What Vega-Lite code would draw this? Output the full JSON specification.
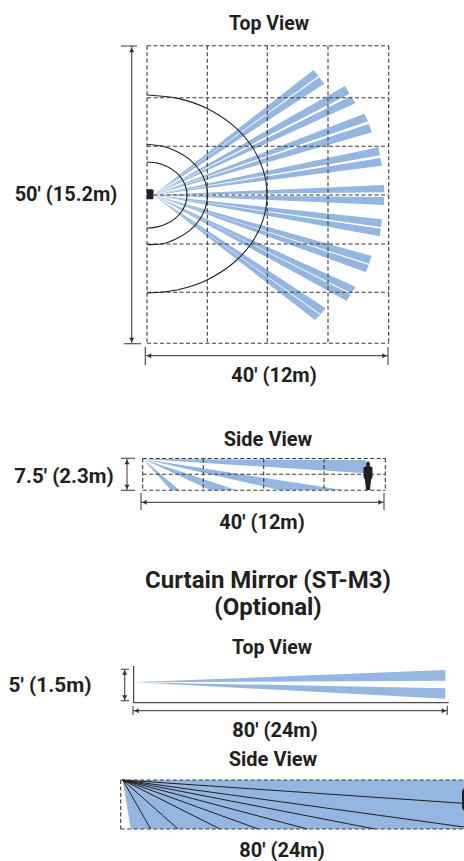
{
"$schema":"https://vega.github.io/schema/vega-lite/v6.json",
"width":464,"height":861,"padding":0,
"autosize":{"type":"none"},
"background":"white",
"view":{"stroke":null},
"datasets":{
"shapes":[
{"id":"b1a","kind":"beam","o":1,"x":153.5,"y":195},{"id":"b1a","kind":"beam","o":2,"x":313.3,"y":70},{"id":"b1a","kind":"beam","o":3,"x":318.7,"y":75.7},
{"id":"b1b","kind":"beam","o":1,"x":153.5,"y":195},{"id":"b1b","kind":"beam","o":2,"x":319,"y":77.3},{"id":"b1b","kind":"beam","o":3,"x":324.3,"y":83.7},
{"id":"b2a","kind":"beam","o":1,"x":153.5,"y":195},{"id":"b2a","kind":"beam","o":2,"x":345,"y":86},{"id":"b2a","kind":"beam","o":3,"x":349.7,"y":93.7},
{"id":"b2b","kind":"beam","o":1,"x":153.5,"y":195},{"id":"b2b","kind":"beam","o":2,"x":350.7,"y":96.3},{"id":"b2b","kind":"beam","o":3,"x":355.7,"y":103},
{"id":"b3a","kind":"beam","o":1,"x":153.5,"y":195},{"id":"b3a","kind":"beam","o":2,"x":364.3,"y":113.7},{"id":"b3a","kind":"beam","o":3,"x":368,"y":121.3},
{"id":"b3b","kind":"beam","o":1,"x":153.5,"y":195},{"id":"b3b","kind":"beam","o":2,"x":368.7,"y":124},{"id":"b3b","kind":"beam","o":3,"x":372,"y":132.3},
{"id":"b4a","kind":"beam","o":1,"x":153.5,"y":195},{"id":"b4a","kind":"beam","o":2,"x":378.3,"y":147.3},{"id":"b4a","kind":"beam","o":3,"x":380,"y":155.3},
{"id":"b4b","kind":"beam","o":1,"x":153.5,"y":195},{"id":"b4b","kind":"beam","o":2,"x":380.3,"y":158},{"id":"b4b","kind":"beam","o":3,"x":382,"y":165.7},
{"id":"b5a","kind":"beam","o":1,"x":153.5,"y":195},{"id":"b5a","kind":"beam","o":2,"x":384,"y":185},{"id":"b5a","kind":"beam","o":3,"x":384.3,"y":192.3},
{"id":"b5b","kind":"beam","o":1,"x":153.5,"y":195},{"id":"b5b","kind":"beam","o":2,"x":384,"y":197},{"id":"b5b","kind":"beam","o":3,"x":384,"y":205},
{"id":"b6a","kind":"beam","o":1,"x":153.5,"y":195},{"id":"b6a","kind":"beam","o":2,"x":382,"y":219.3},{"id":"b6a","kind":"beam","o":3,"x":381,"y":227},
{"id":"b6b","kind":"beam","o":1,"x":153.5,"y":195},{"id":"b6b","kind":"beam","o":2,"x":380.7,"y":228.7},{"id":"b6b","kind":"beam","o":3,"x":380,"y":236.3},
{"id":"b7a","kind":"beam","o":1,"x":153.5,"y":195},{"id":"b7a","kind":"beam","o":2,"x":371.7,"y":256},{"id":"b7a","kind":"beam","o":3,"x":369,"y":263.7},
{"id":"b7b","kind":"beam","o":1,"x":153.5,"y":195},{"id":"b7b","kind":"beam","o":2,"x":368.7,"y":265},{"id":"b7b","kind":"beam","o":3,"x":366,"y":272.3},
{"id":"b8a","kind":"beam","o":1,"x":153.5,"y":195},{"id":"b8a","kind":"beam","o":2,"x":355.7,"y":287},{"id":"b8a","kind":"beam","o":3,"x":351.3,"y":293.3},
{"id":"b8b","kind":"beam","o":1,"x":153.5,"y":195},{"id":"b8b","kind":"beam","o":2,"x":350.7,"y":294.3},{"id":"b8b","kind":"beam","o":3,"x":346.7,"y":301},
{"id":"b9a","kind":"beam","o":1,"x":153.5,"y":195},{"id":"b9a","kind":"beam","o":2,"x":325.7,"y":308.3},{"id":"b9a","kind":"beam","o":3,"x":320.7,"y":314.3},
{"id":"b9b","kind":"beam","o":1,"x":153.5,"y":195},{"id":"b9b","kind":"beam","o":2,"x":320,"y":315},{"id":"b9b","kind":"beam","o":3,"x":315,"y":320},
{"id":"s1","kind":"beam","o":1,"x":143,"y":459},{"id":"s1","kind":"beam","o":2,"x":366,"y":460},{"id":"s1","kind":"beam","o":3,"x":366,"y":473.3},
{"id":"s2","kind":"beam","o":1,"x":143,"y":459},{"id":"s2","kind":"beam","o":2,"x":343,"y":490},{"id":"s2","kind":"beam","o":3,"x":279,"y":490},
{"id":"s3","kind":"beam","o":1,"x":143,"y":459},{"id":"s3","kind":"beam","o":2,"x":236,"y":490},{"id":"s3","kind":"beam","o":3,"x":210,"y":490},
{"id":"s4","kind":"beam","o":1,"x":143,"y":459},{"id":"s4","kind":"beam","o":2,"x":179.3,"y":490},{"id":"s4","kind":"beam","o":3,"x":170.7,"y":490},
{"id":"c1","kind":"beam","o":1,"x":134,"y":682.3},{"id":"c1","kind":"beam","o":2,"x":445.3,"y":670},{"id":"c1","kind":"beam","o":3,"x":445.3,"y":680.7},
{"id":"c2","kind":"beam","o":1,"x":134,"y":682.3},{"id":"c2","kind":"beam","o":2,"x":445.3,"y":688.3},{"id":"c2","kind":"beam","o":3,"x":445.3,"y":698.7},
{"id":"d1","kind":"beam","o":1,"x":122.7,"y":780},{"id":"d1","kind":"beam","o":2,"x":464,"y":780},{"id":"d1","kind":"beam","o":3,"x":464,"y":829},{"id":"d1","kind":"beam","o":4,"x":130.7,"y":829},
{"id":"sensor","kind":"dark","o":1,"x":146.7,"y":189.3},{"id":"sensor","kind":"dark","o":2,"x":152.5,"y":189.3},{"id":"sensor","kind":"dark","o":3,"x":153.5,"y":190.5},{"id":"sensor","kind":"dark","o":4,"x":153.5,"y":198},{"id":"sensor","kind":"dark","o":5,"x":152.5,"y":199.3},{"id":"sensor","kind":"dark","o":6,"x":146.7,"y":199.3},
{"id":"person","kind":"dark","o":1,"x":367,"y":461.5},{"id":"person","kind":"dark","o":2,"x":369,"y":461.5},{"id":"person","kind":"dark","o":3,"x":370,"y":464},{"id":"person","kind":"dark","o":4,"x":369.5,"y":466},{"id":"person","kind":"dark","o":5,"x":372.5,"y":467.5},{"id":"person","kind":"dark","o":6,"x":372.5,"y":477},{"id":"person","kind":"dark","o":7,"x":371,"y":480},{"id":"person","kind":"dark","o":8,"x":370,"y":490},{"id":"person","kind":"dark","o":9,"x":366,"y":490},{"id":"person","kind":"dark","o":10,"x":365,"y":480},{"id":"person","kind":"dark","o":11,"x":363.5,"y":477},{"id":"person","kind":"dark","o":12,"x":363.5,"y":467.5},{"id":"person","kind":"dark","o":13,"x":366.5,"y":466},{"id":"person","kind":"dark","o":14,"x":366,"y":464},
{"id":"person2","kind":"dark","o":1,"x":464,"y":788},{"id":"person2","kind":"dark","o":2,"x":462,"y":791},{"id":"person2","kind":"dark","o":3,"x":462,"y":808},{"id":"person2","kind":"dark","o":4,"x":464,"y":811}
],
"dashes":[
{"x":147,"y":45.7,"x2":389,"y2":45.7},{"x":147,"y":97.7,"x2":389,"y2":97.7},{"x":147,"y":146.3,"x2":389,"y2":146.3},{"x":147,"y":195,"x2":389,"y2":195},{"x":147,"y":244,"x2":389,"y2":244},{"x":147,"y":292.3,"x2":389,"y2":292.3},{"x":147,"y":343.3,"x2":389,"y2":343.3},
{"x":147,"y":45.7,"x2":147,"y2":343.3},{"x":207.3,"y":45.7,"x2":207.3,"y2":343.3},{"x":267.3,"y":45.7,"x2":267.3,"y2":343.3},{"x":328,"y":45.7,"x2":328,"y2":343.3},{"x":388.7,"y":45.7,"x2":388.7,"y2":343.3},
{"x":142.7,"y":458.5,"x2":385.3,"y2":458.5},{"x":142.7,"y":474.3,"x2":385.3,"y2":474.3},{"x":142.7,"y":490.3,"x2":385.3,"y2":490.3},
{"x":142.7,"y":458.5,"x2":142.7,"y2":490.3},{"x":203.3,"y":458.5,"x2":203.3,"y2":490.3},{"x":263.7,"y":458.5,"x2":263.7,"y2":490.3},{"x":324,"y":458.5,"x2":324,"y2":490.3},{"x":385.3,"y":458.5,"x2":385.3,"y2":490.3},
{"x":120.7,"y":780,"x2":464,"y2":780},{"x":120.7,"y":829,"x2":464,"y2":829},{"x":120.7,"y":780,"x2":120.7,"y2":829}
],
"solid":[
{"x":122.7,"y":780,"x2":150.7,"y2":829},{"x":122.7,"y":780,"x2":178,"y2":829},{"x":122.7,"y":780,"x2":220,"y2":829},{"x":122.7,"y":780,"x2":258.3,"y2":829},{"x":122.7,"y":780,"x2":307.3,"y2":829},{"x":122.7,"y":780,"x2":375,"y2":829},{"x":122.7,"y":780,"x2":464,"y2":827},{"x":122.7,"y":780,"x2":463,"y2":803.3},
{"x":133.7,"y":666,"x2":133.7,"y2":702.7},{"x":133.7,"y":702.7,"x2":448.7,"y2":702.7}
],
"dims":[
{"x":121,"y":46,"x2":137,"y2":46},{"x":124,"y":343.7,"x2":141,"y2":343.7},{"x":131.7,"y":46,"x2":131.7,"y2":343.7},
{"x":145.3,"y":347,"x2":145.3,"y2":365},{"x":388,"y":347,"x2":388,"y2":365},{"x":145.3,"y":355.7,"x2":388,"y2":355.7},
{"x":121,"y":458.3,"x2":135,"y2":458.3},{"x":121,"y":490.3,"x2":135,"y2":490.3},{"x":127,"y":458.3,"x2":127,"y2":490.3},
{"x":141,"y":493,"x2":141,"y2":510},{"x":384,"y":493,"x2":384,"y2":510},{"x":141,"y":502.3,"x2":384,"y2":502.3},
{"x":121,"y":669.3,"x2":129,"y2":669.3},{"x":121,"y":700.7,"x2":129,"y2":700.7},{"x":124.7,"y":669.3,"x2":124.7,"y2":700.7},
{"x":133,"y":706,"x2":133,"y2":715},{"x":447.3,"y":706,"x2":447.3,"y2":715},{"x":133,"y":710.7,"x2":447.3,"y2":710.7}
],
"arcs":[
{"r":"s","o":1,"x":147,"y":162},{"r":"s","o":2,"x":157.4,"y":163.1},{"r":"s","o":3,"x":167,"y":166.4},{"r":"s","o":4,"x":175.3,"y":171.7},{"r":"s","o":5,"x":181.6,"y":178.5},{"r":"s","o":6,"x":185.6,"y":186.5},{"r":"s","o":7,"x":187,"y":195},{"r":"s","o":8,"x":185.6,"y":203.5},{"r":"s","o":9,"x":181.6,"y":211.5},{"r":"s","o":10,"x":175.3,"y":218.3},{"r":"s","o":11,"x":167,"y":223.6},{"r":"s","o":12,"x":157.4,"y":226.9},{"r":"s","o":13,"x":147,"y":228},
{"r":"m","o":1,"x":147,"y":144.5},{"r":"m","o":2,"x":162.7,"y":146.2},{"r":"m","o":3,"x":177.3,"y":151.7},{"r":"m","o":4,"x":189.8,"y":159.6},{"r":"m","o":5,"x":199.4,"y":170},{"r":"m","o":6,"x":205.4,"y":182.1},{"r":"m","o":7,"x":207.5,"y":195},{"r":"m","o":8,"x":205.4,"y":207.9},{"r":"m","o":9,"x":199.4,"y":220},{"r":"m","o":10,"x":189.8,"y":230.4},{"r":"m","o":11,"x":177.3,"y":238.3},{"r":"m","o":12,"x":162.7,"y":243.8},{"r":"m","o":13,"x":147,"y":244.5},
{"r":"l","o":1,"x":147,"y":95},{"r":"l","o":2,"x":178,"y":98.4},{"r":"l","o":3,"x":207,"y":108.4},{"r":"l","o":4,"x":231.8,"y":124.3},{"r":"l","o":5,"x":250.9,"y":145},{"r":"l","o":6,"x":262.9,"y":169.1},{"r":"l","o":7,"x":267,"y":195},{"r":"l","o":8,"x":262.9,"y":220.4},{"r":"l","o":9,"x":250.9,"y":244},{"r":"l","o":10,"x":231.8,"y":264.3},{"r":"l","o":11,"x":207,"y":279.9},{"r":"l","o":12,"x":178,"y":289.7},{"r":"l","o":13,"x":147,"y":293}
],
"heads":[
{"x":131.7,"y":50,"s":"triangle-up"},{"x":131.7,"y":340,"s":"triangle-down"},{"x":149,"y":355.7,"s":"triangle-left"},{"x":384.5,"y":355.7,"s":"triangle-right"},
{"x":127,"y":462,"s":"triangle-up"},{"x":127,"y":487,"s":"triangle-down"},{"x":144.5,"y":502.3,"s":"triangle-left"},{"x":380.5,"y":502.3,"s":"triangle-right"},
{"x":124.7,"y":672.5,"s":"triangle-up"},{"x":124.7,"y":697.5,"s":"triangle-down"},{"x":136.5,"y":710.7,"s":"triangle-left"},{"x":444,"y":710.7,"s":"triangle-right"}
],
"labels":[
{"t":"Top View","x":269,"y":24,"fs":19.5},
{"t":"50' (15.2m)","x":66,"y":195,"fs":20},
{"t":"40' (12m)","x":274,"y":376,"fs":20},
{"t":"Side View","x":268,"y":440,"fs":20},
{"t":"7.5' (2.3m)","x":64,"y":477,"fs":20.5},
{"t":"40' (12m)","x":262,"y":523,"fs":20},
{"t":"Curtain Mirror (ST-M3)","x":268,"y":581,"fs":24},
{"t":"(Optional)","x":268,"y":608,"fs":24},
{"t":"Top View","x":272,"y":648,"fs":19.5},
{"t":"5' (1.5m)","x":50,"y":686,"fs":20.8},
{"t":"80' (24m)","x":275,"y":731,"fs":20},
{"t":"Side View","x":273,"y":760,"fs":20},
{"t":"80' (24m)","x":282,"y":850.5,"fs":20}
]
},
"encoding":{
"x":{"field":"x","type":"quantitative","scale":{"domain":[0,464],"nice":false,"zero":false},"axis":null},
"y":{"field":"y","type":"quantitative","scale":{"domain":[861,0],"nice":false,"zero":false},"axis":null}
},
"layer":[
{"data":{"name":"shapes"},"transform":[{"filter":"datum.kind=='beam'"}],
 "mark":{"type":"line","fill":"#94B6E1","strokeWidth":0,"clip":true},
 "encoding":{"detail":{"field":"id"},"order":{"field":"o","type":"quantitative"}}},
{"data":{"name":"solid"},"mark":{"type":"rule","color":"#231f20","strokeWidth":1},
 "encoding":{"x2":{"field":"x2"},"y2":{"field":"y2"}}},
{"data":{"name":"dashes"},"mark":{"type":"rule","color":"#3a3a3c","strokeWidth":1.1,"strokeDash":[4,2.5]},
 "encoding":{"x2":{"field":"x2"},"y2":{"field":"y2"}}},
{"data":{"name":"arcs"},"mark":{"type":"line","interpolate":"cardinal","color":"#231f20","strokeWidth":1.1},
 "encoding":{"detail":{"field":"r"},"order":{"field":"o","type":"quantitative"}}},
{"data":{"name":"shapes"},"transform":[{"filter":"datum.kind=='dark'"}],
 "mark":{"type":"line","fill":"#231f20","strokeWidth":0},
 "encoding":{"detail":{"field":"id"},"order":{"field":"o","type":"quantitative"}}},
{"data":{"name":"dims"},"mark":{"type":"rule","color":"#555555","strokeWidth":1.2},
 "encoding":{"x2":{"field":"x2"},"y2":{"field":"y2"}}},
{"data":{"name":"heads"},"mark":{"type":"point","filled":true,"color":"#333333","size":26,"opacity":1},
 "encoding":{"shape":{"field":"s","type":"nominal","scale":null}}},
{"data":{"name":"labels"},"mark":{"type":"text","font":"Roboto","fontWeight":"bold","color":"#231f20","align":"center","baseline":"middle"},
 "encoding":{"text":{"field":"t"},"size":{"field":"fs","type":"quantitative","scale":null}}}
]
}
